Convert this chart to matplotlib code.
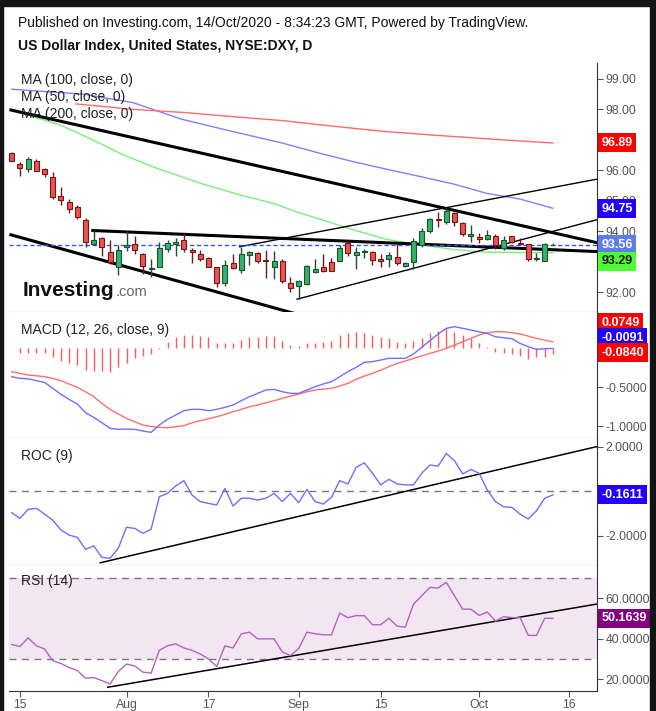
import numpy as np
import matplotlib
matplotlib.use("Agg")
import matplotlib.pyplot as plt
from matplotlib.patches import Rectangle

plt.rcParams['font.family'] = ['Liberation Sans', 'DejaVu Sans']

# ---- data (daily bars, 14 Jul 2020 .. 14 Oct 2020) ----
opens  = [96.57, 96.21, 96.03, 96.31, 96.05, 95.78, 95.16, 94.98, 94.79, 94.37,
          93.60, 93.78, 93.34, 92.83, 93.49, 93.59, 93.25, 92.78, 92.83, 93.42,
          93.60, 93.71, 93.38, 93.26, 93.12, 92.83, 92.30, 92.96, 92.74, 93.22,
          93.29, 93.05, 92.85, 93.03, 92.30, 92.20, 92.28, 92.66, 92.83, 92.99,
          93.04, 93.61, 93.23, 93.33, 93.31, 93.10, 93.09, 93.16, 92.87, 93.01,
          93.56, 94.00, 94.41, 94.32, 94.60, 94.27, 93.86, 93.81, 93.74, 93.85,
          93.45, 93.85, 93.61, 93.58, 93.09, 93.04, 93.55]
highs  = [96.60, 96.29, 96.43, 96.37, 96.09, 95.94, 95.45, 95.06, 94.86, 94.45,
          94.05, 93.82, 93.72, 93.56, 94.00, 93.86, 93.30, 93.09, 93.67, 93.72,
          93.78, 93.94, 93.45, 93.39, 93.15, 92.83, 93.07, 93.26, 93.50, 93.36,
          93.34, 93.39, 93.36, 93.11, 92.52, 92.41, 92.90, 93.09, 93.25, 93.14,
          93.56, 93.67, 93.48, 93.43, 93.36, 93.25, 93.32, 93.58, 93.01, 93.80,
          94.12, 94.45, 94.63, 94.76, 94.65, 94.30, 94.21, 93.94, 94.05, 93.91,
          93.86, 93.86, 93.80, 93.58, 93.29, 93.61, 93.63]
lows   = [96.31, 95.83, 95.94, 95.97, 95.80, 95.07, 94.87, 94.62, 94.41, 93.50,
          93.54, 93.21, 92.93, 92.57, 93.36, 93.27, 92.60, 92.50, 92.83, 93.34,
          93.21, 93.32, 92.98, 93.04, 92.82, 92.17, 92.21, 92.76, 92.63, 92.90,
          92.96, 92.47, 92.44, 92.30, 92.03, 91.78, 92.25, 92.63, 92.68, 92.72,
          93.04, 93.18, 92.76, 93.14, 92.90, 92.82, 92.82, 92.90, 92.82, 92.77,
          93.50, 93.94, 94.14, 94.24, 94.19, 93.86, 93.67, 93.61, 93.72, 93.42,
          93.39, 93.61, 93.54, 93.04, 93.04, 93.04, 93.54]
closes = [96.31, 96.09, 96.38, 95.97, 95.88, 95.14, 95.02, 94.73, 94.47, 93.67,
          93.72, 93.48, 93.01, 93.38, 93.56, 93.40, 92.88, 92.80, 93.45, 93.61,
          93.66, 93.44, 93.34, 93.11, 92.85, 92.30, 92.89, 92.79, 93.26, 93.32,
          93.02, 93.02, 93.04, 92.39, 92.16, 92.37, 92.87, 92.76, 92.72, 92.72,
          93.45, 93.29, 93.34, 93.35, 93.06, 93.04, 93.22, 92.98, 92.96, 93.69,
          94.00, 94.41, 94.36, 94.67, 94.30, 93.91, 93.91, 93.74, 93.89, 93.56,
          93.72, 93.64, 93.58, 93.09, 93.12, 93.58, 93.56]

# moving averages, read at a few bars
ma100_x = [0, 4.3, 8.7, 14.8, 20.7, 27, 33.1, 37.6, 41.6, 45.7, 49.8, 53.8, 57.9, 62, 66]
ma100_y = [98.66, 98.58, 98.50, 98.22, 97.68, 97.27, 96.89, 96.56, 96.29, 96.04, 95.80, 95.56, 95.25, 95.06, 94.76]
ma200_x = [7.8, 14.8, 20.9, 27, 33.1, 38.8, 45.7, 53.9, 60, 66]
ma200_y = [98.18, 98.00, 97.90, 97.76, 97.63, 97.46, 97.27, 97.11, 97.00, 96.90]
ma50_x = [0, 2.6, 5.9, 9.5, 13.6, 17.7, 23, 27.8, 31.9, 35.2, 38.8, 41.7, 45.7, 49.8, 53.9, 58, 62, 66]
ma50_y = [97.96, 97.76, 97.49, 97.05, 96.51, 96.07, 95.58, 95.20, 94.92, 94.60, 94.30, 94.05, 93.74, 93.56, 93.41, 93.32, 93.31, 93.30]

macd = [-0.368, -0.389, -0.395, -0.419, -0.440, -0.516, -0.592, -0.656, -0.715, -0.826,
        -0.885, -0.953, -1.024, -1.037, -1.033, -1.037, -1.058, -1.075, -0.982, -0.910,
        -0.855, -0.800, -0.783, -0.783, -0.800, -0.783, -0.758, -0.728, -0.673, -0.622,
        -0.580, -0.537, -0.529, -0.559, -0.580, -0.580, -0.537, -0.495, -0.461, -0.432,
        -0.368, -0.305, -0.249, -0.186, -0.177, -0.156, -0.135, -0.135, -0.135, -0.080,
        0.005, 0.089, 0.174, 0.246, 0.268, 0.246, 0.225, 0.203, 0.182, 0.140,
        0.127, 0.114, 0.055, 0.013, -0.021, -0.013, -0.009]
signal = [-0.305, -0.326, -0.347, -0.356, -0.368, -0.389, -0.419, -0.461, -0.503, -0.559,
          -0.622, -0.707, -0.783, -0.843, -0.898, -0.940, -0.982, -1.003, -1.012, -1.016,
          -1.003, -0.990, -0.953, -0.927, -0.902, -0.877, -0.847, -0.813, -0.783, -0.750,
          -0.728, -0.699, -0.673, -0.644, -0.614, -0.589, -0.559, -0.537, -0.525, -0.516,
          -0.487, -0.453, -0.402, -0.360, -0.326, -0.284, -0.241, -0.199, -0.169, -0.135,
          -0.105, -0.072, -0.042, -0.008, 0.034, 0.076, 0.119, 0.161, 0.191, 0.203,
          0.203, 0.191, 0.174, 0.148, 0.119, 0.097, 0.075]
hist = [np.nan, -0.072, -0.072, -0.072, -0.072, -0.123, -0.165, -0.190, -0.220, -0.284,
        -0.296, -0.296, -0.305, -0.250, -0.190, -0.136, -0.100, -0.080, -0.010, 0.068,
        0.131, 0.161, 0.161, 0.155, 0.131, 0.064, 0.055, 0.055, 0.097, 0.131,
        0.131, 0.148, 0.148, 0.089, 0.034, 0.021, 0.055, 0.055, 0.068, 0.089,
        0.161, 0.182, 0.203, 0.191, 0.161, 0.131, 0.118, 0.068, 0.055, 0.089,
        0.118, 0.182, 0.216, 0.246, 0.203, 0.161, 0.118, 0.055, 0.004, -0.059,
        -0.072, -0.085, -0.106, -0.148, -0.114, -0.114, -0.084]

roc = [-0.96, -1.21, -0.81, -0.76, -1.02, -1.29, -1.73, -1.96, -2.06, -2.60,
       -2.44, -2.96, -3.00, -2.55, -1.61, -1.66, -1.88, -1.70, -0.24, -0.09,
       0.24, 0.48, -0.17, -0.46, -0.54, -0.61, 0.13, -0.66, -0.31, -0.31,
       -0.39, -0.31, -0.09, -0.46, -0.09, -0.51, 0.09, -0.46, -0.57, -0.27,
       0.48, 0.33, 1.07, 1.28, 0.81, 0.29, 0.54, 0.33, 0.29, 0.29,
       0.81, 1.18, 1.13, 1.70, 1.37, 0.78, 0.98, 0.81, 0.06, -0.46,
       -0.69, -0.72, -1.02, -1.24, -0.87, -0.31, -0.16]

rsi = [37.2, 36.2, 40.5, 36.6, 35.0, 29.2, 27.8, 25.8, 24.3, 20.5,
       20.8, 19.3, 17.6, 23.8, 27.5, 26.6, 23.5, 23.0, 34.3, 36.6,
       37.5, 35.5, 34.3, 32.5, 30.0, 26.3, 36.5, 35.5, 42.5, 43.3,
       40.0, 40.0, 40.0, 33.5, 31.7, 35.2, 43.3, 42.5, 42.0, 42.0,
       52.8, 50.5, 51.5, 51.5, 47.0, 47.0, 50.2, 46.3, 45.8, 57.2,
       61.3, 65.5, 65.2, 68.0, 61.3, 54.7, 54.7, 51.6, 53.3, 48.8,
       51.0, 50.5, 50.5, 41.7, 41.7, 50.2, 50.16]

tick_idx = [1, 14, 24, 35, 45, 57, 68]
tick_labels = ['15', 'Aug', '17', 'Sep', '15', 'Oct', '16']

x = np.arange(len(closes))
W, H = 656, 711
fig = plt.figure(figsize=(W / 100, H / 100), dpi=100)
fig.patch.set_facecolor('white')

# dark frame of the screenshot
for r in [(0, 705, 656, 6), (0, 0, 3, 711), (650, 0, 6, 711)]:
    fig.patches.append(Rectangle((r[0] / W, r[1] / H), r[2] / W, r[3] / H,
                                 transform=fig.transFigure, color='#141414', zorder=10))

fig.text(18 / W, 1 - 23 / H, "Published on Investing.com, 14/Oct/2020 - 8:34:23 GMT, Powered by TradingView.",
         fontsize=10, va='center', color='#111')
fig.text(18 / W, 1 - 46 / H, "US Dollar Index, United States, NYSE:DXY, D",
         fontsize=10, fontweight='bold', va='center', color='#111')

L, R = 9, 597
def panel(top, bottom):
    return fig.add_axes([L / W, (H - bottom) / H, (R - L) / W, (bottom - top) / H])

ax1 = panel(63, 312)
ax2 = panel(312, 438)
ax3 = panel(438, 565)
ax4 = panel(565, 690.7)
xlim = (-0.33, 71.38)

for ax in [ax1, ax2, ax3, ax4]:
    ax.set_xlim(*xlim)
    ax.spines['left'].set_visible(False)
    ax.spines['top'].set_visible(False)
    ax.spines['right'].set_color('#333')
    ax.spines['bottom'].set_color('#333')
    ax.yaxis.tick_right()
    ax.tick_params(axis='y', direction='out', length=4, colors='#555', labelsize=8.8, pad=2)
    ax.tick_params(axis='x', bottom=False, labelbottom=False)

def tag(ax, y, text, fc, tc='white', coords='data'):
    ax.annotate(text, xy=(1, y), xycoords=('axes fraction', coords), xytext=(3.2, 0),
                textcoords='offset points', ha='left', va='center', fontsize=9,
                fontweight='bold', color=tc, annotation_clip=False, zorder=20,
                bbox=dict(boxstyle='square,pad=0.28', fc=fc, ec='none'))

# ---- price panel ----
ax1.set_ylim(91.36, 99.52)
ax1.set_yticks([92, 94, 95, 96, 98, 99])
ax1.yaxis.set_major_formatter(matplotlib.ticker.FormatStrFormatter('%.2f'))

ax1.plot(ma100_x, ma100_y, color='#8080ff', lw=1)
ax1.plot(ma200_x, ma200_y, color='#ff6b6b', lw=1)
ax1.plot(ma50_x, ma50_y, color='#7ded7d', lw=1)

# trend lines
ax1.plot([-0.1, 71.4], [97.98, 93.63], color='black', lw=2.2)
ax1.plot([-0.1, 40], [93.89, 90.9], color='black', lw=2.2)
ax1.plot([9.9, 71.4], [94.03, 93.34], color='black', lw=2.2)
ax1.plot([27.8, 71.3], [93.50, 95.71], color='black', lw=1)
ax1.plot([34.8, 71.3], [91.78, 94.38], color='black', lw=1)

ax1.axhline(closes[-1], color='#3355ff', lw=1, ls=(0, (3, 2)))

for i in x:
    up = closes[i] >= opens[i]
    fc = '#34b36a' if up else '#f0524f'
    ec = '#1d4f30' if up else '#6e1b17'
    ax1.vlines(i, lows[i], highs[i], color=ec, lw=1, zorder=3)
    lo, hi = min(opens[i], closes[i]), max(opens[i], closes[i])
    ax1.bar(i, max(hi - lo, 0.015), bottom=lo, width=0.62, color=fc, edgecolor=ec, lw=0.8, zorder=4)

ax1.text(0.0204, 0.932, "MA (100, close, 0)", transform=ax1.transAxes, fontsize=10, va='center', color='#222')
ax1.text(0.0204, 0.863, "MA (50, close, 0)", transform=ax1.transAxes, fontsize=10, va='center', color='#222')
ax1.text(0.0204, 0.795, "MA (200, close, 0)", transform=ax1.transAxes, fontsize=10, va='center', color='#222')
ax1.text(0.024, 0.064, "Investing", transform=ax1.transAxes, fontsize=15, fontweight='bold',
         va='baseline', color='#111')
ax1.text(0.181, 0.064, ".com", transform=ax1.transAxes, fontsize=10.5, va='baseline', color='#666')

tag(ax1, 96.90, "96.89", '#ff0000')
tag(ax1, 94.75, "94.75", '#2200ff')
tag(ax1, 93.56, "93.56", '#5f7de8')
tag(ax1, 93.03, "93.29", '#4cff33', tc='#111')

# ---- MACD ----
ax2.set_ylim(-1.147, 0.454)
ax2.set_yticks([-1.0, -0.5])
ax2.yaxis.set_major_formatter(matplotlib.ticker.FormatStrFormatter('%.4f'))
ax2.vlines(x, 0, hist, color='#ff5a5a', lw=1)
ax2.plot(x, signal, color='#ff6f6f', lw=1)
ax2.plot(x, macd, color='#7070ff', lw=1)
ax2.text(0.0204, 0.855, "MACD (12, 26, close, 9)", transform=ax2.transAxes, fontsize=10, va='center', color='#222')
tag(ax2, 0.913, "0.0749", '#ff0000', coords='axes fraction')
tag(ax2, 0.794, "-0.0091", '#2200ff', coords='axes fraction')
tag(ax2, 0.675, "-0.0840", '#ff0000', coords='axes fraction')

# ---- ROC ----
ax3.set_ylim(-3.30, 2.39)
ax3.set_yticks([-2, 2])
ax3.yaxis.set_major_formatter(matplotlib.ticker.FormatStrFormatter('%.4f'))
ax3.axhline(0, color='#777', lw=1, ls=(0, (5, 4)))
ax3.plot([10.8, 71.3], [-3.2, 2.0], color='black', lw=1.1)
ax3.plot(x, roc, color='#6f6fff', lw=1)
ax3.text(0.0204, 0.86, "ROC (9)", transform=ax3.transAxes, fontsize=10, va='center', color='#222')
tag(ax3, roc[-1], "-0.1611", '#2200ff')

# ---- RSI ----
ax4.set_ylim(14.3, 76.6)
ax4.set_yticks([20, 40, 60])
ax4.yaxis.set_major_formatter(matplotlib.ticker.FormatStrFormatter('%.4f'))
ax4.axhspan(30, 70, color='#f3e6f3', lw=0)
ax4.axhline(70, color='#777', lw=1, ls=(0, (5, 4)))
ax4.axhline(30, color='#777', lw=1, ls=(0, (5, 4)))
ax4.plot([11.7, 71.3], [16.0, 57.2], color='black', lw=1.1)
ax4.plot(x, rsi, color='#b463c4', lw=1)
ax4.text(0.0204, 0.87, "RSI (14)", transform=ax4.transAxes, fontsize=10, va='center', color='#222')
tag(ax4, rsi[-1], "50.1639", '#800080')

ax4.set_xticks(tick_idx)
ax4.set_xticklabels(tick_labels)
ax4.tick_params(axis='x', bottom=True, labelbottom=True, direction='out', length=4,
                colors='#555', labelsize=8.8, pad=2)

fig.savefig("out.png", dpi=100)
